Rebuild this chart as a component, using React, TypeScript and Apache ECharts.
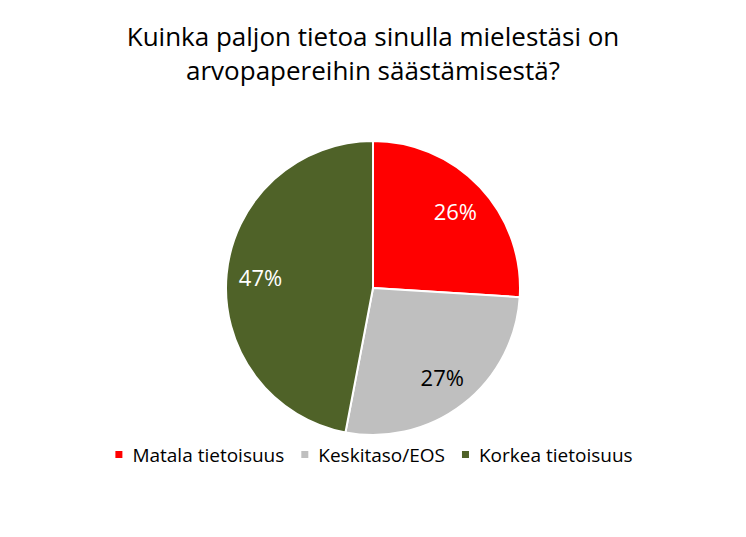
import React, { useEffect, useRef } from "react";
import * as echarts from "echarts";

const titleLines = ["Kuinka paljon tietoa sinulla mielestäsi on", "arvopapereihin säästämisestä?"];
const categories = ["Matala tietoisuus", "Keskitaso/EOS", "Korkea tietoisuus"];
const values = [26, 27, 47];
const colors = ["#FF0000", "#BFBFBF", "#4F6228"];
const labelColors = ["#FFFFFF", "#000000", "#FFFFFF"];

const FONT = '"Open Sans", "Noto Sans", sans-serif';

export default function App() {
  const ref = useRef<HTMLDivElement>(null);
  useEffect(() => {
    if (!ref.current) return;
    const chart = echarts.init(ref.current, undefined, { renderer: "svg" });
    chart.setOption({
      animation: false,
      backgroundColor: "#FFFFFF",
      title: {
        text: titleLines.join("\n"),
        left: "center",
        top: 14,
        textStyle: {
          fontFamily: FONT,
          fontSize: 26,
          fontWeight: "normal",
          color: "#000000",
          lineHeight: 34,
        },
      },
      legend: {
        data: categories,
        top: 440,
        left: "center",
        icon: "rect",
        itemWidth: 9,
        itemHeight: 9,
        itemGap: 15,
        textStyle: {
          fontFamily: FONT,
          fontSize: 19,
          color: "#000000",
          padding: [0, 0, 0, 4],
        },
      },
      series: [
        {
          type: "pie",
          center: [373, 288],
          radius: [0, 147],
          startAngle: 90,
          clockwise: true,
          silent: true,
          data: categories.map((name, i) => ({
            name,
            value: values[i],
            itemStyle: { color: colors[i] },
          })),
          itemStyle: { borderColor: "#FFFFFF", borderWidth: 2 },
          label: { show: false },
          labelLine: { show: false },
        },
        {
          type: "pie",
          center: [373, 288],
          radius: [73, 147],
          startAngle: 90,
          clockwise: true,
          silent: true,
          data: categories.map((name, i) => ({
            name,
            value: values[i],
            itemStyle: { color: "rgba(0,0,0,0)" },
            label: { color: labelColors[i] },
          })),
          itemStyle: { borderWidth: 0 },
          label: {
            show: true,
            position: "inside",
            formatter: "{d}%",
            fontFamily: FONT,
            fontSize: 22,
          },
          labelLine: { show: false },
        },
      ],
    });
    return () => chart.dispose();
  }, []);
  return (
    <div
      ref={ref}
      style={{ position: "fixed", left: 0, top: 0, width: 746, height: 537 }}
    />
  );
}
